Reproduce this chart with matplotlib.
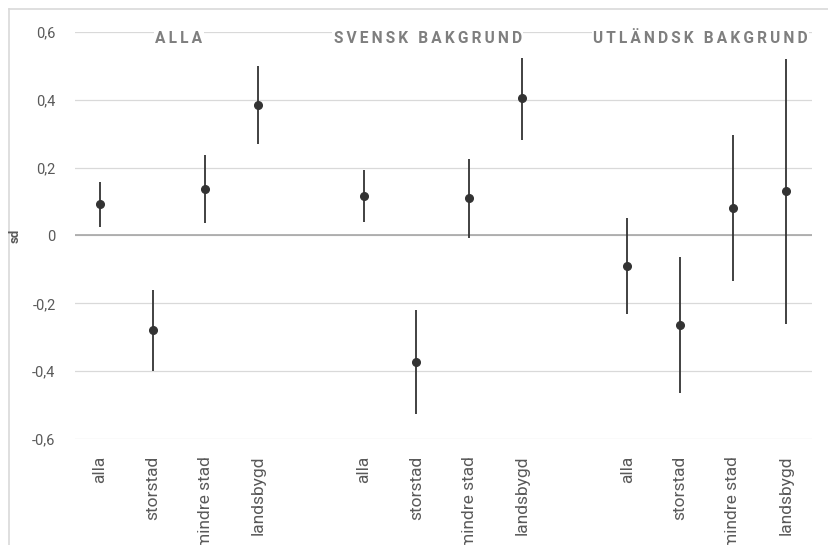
import numpy as np
import matplotlib
matplotlib.use("Agg")
import matplotlib.pyplot as plt
from matplotlib.lines import Line2D

plt.rcParams['font.family'] = ['Roboto', 'DejaVu Sans']

groups = ["ALLA", "SVENSK BAKGRUND", "UTLÄNDSK BAKGRUND"]
categories = ["alla", "storstad", "mindre stad", "landsbygd"]

# point estimate, lower and upper bound per group
est_alla = [0.092, -0.280, 0.137, 0.384]
low_alla = [0.024, -0.400, 0.038, 0.269]
high_alla = [0.159, -0.161, 0.237, 0.499]

est_svensk = [0.116, -0.372, 0.110, 0.404]
low_svensk = [0.041, -0.526, -0.006, 0.283]
high_svensk = [0.192, -0.220, 0.226, 0.524]

est_utl = [-0.090, -0.263, 0.081, 0.130]
low_utl = [-0.232, -0.464, -0.133, -0.262]
high_utl = [0.052, -0.063, 0.295, 0.519]

yticks = [-0.6, -0.4, -0.2, 0, 0.2, 0.4, 0.6]
ytick_labels = ["-0,6", "-0,4", "-0,2", "0", "0,2", "0,4", "0,6"]

fig = plt.figure(figsize=(8.29, 5.45), dpi=100)
ax = fig.add_axes([0.0905, 0.1945, 0.889, 0.7468])

# outer chart border (only top and left visible in the reference)
fig.add_artist(Line2D([0.011, 1.0], [0.983, 0.983], color="#d9d9d9", lw=1.2, transform=fig.transFigure))
fig.add_artist(Line2D([0.011, 0.011], [0.0, 0.983], color="#d9d9d9", lw=1.2, transform=fig.transFigure))

all_est = [est_alla, est_svensk, est_utl]
all_low = [low_alla, low_svensk, low_utl]
all_high = [high_alla, high_svensk, high_utl]
title_x = [1.5, 6.22, 11.39]

xpos = []
xlab = []
for g in range(3):
    x = np.arange(4) + g * 5
    est = np.array(all_est[g])
    lo = np.array(all_low[g])
    hi = np.array(all_high[g])
    ax.errorbar(x, est, yerr=[est - lo, hi - est], fmt="o", color="#333333",
                ecolor="#333333", elinewidth=1.3, markersize=5.5, capsize=0, zorder=3)
    xpos += list(x)
    xlab += categories
    ax.text(title_x[g], 0.58, "\u2009".join(groups[g]), ha="center", va="center",
            fontsize=11.2, fontweight="bold", color="#7f7f7f", zorder=4,
            bbox=dict(facecolor="white", edgecolor="none", pad=1))

ax.set_xlim(-0.47, 13.5)
ax.set_ylim(-0.6, 0.6)
ax.set_yticks(yticks)
ax.set_yticklabels(ytick_labels)
ax.set_xticks(xpos)
ax.set_xticklabels(xlab, rotation=90)
ax.tick_params(axis="y", length=0, labelsize=10.5, colors="#595959", pad=14)
ax.tick_params(axis="x", length=0, labelsize=12.5, colors="#595959", pad=12)
for s in ax.spines.values():
    s.set_visible(False)
ax.grid(axis="y", color="#d9d9d9", lw=0.9, zorder=0)
ax.axhline(0, color="#a6a6a6", lw=1.2, zorder=1)
ax.set_axisbelow(True)

fig.text(0.018, 0.567, "sd", rotation=90, ha="center", va="center",
         fontsize=9.5, fontweight="bold", color="#595959")

fig.savefig("out.png", dpi=100)
